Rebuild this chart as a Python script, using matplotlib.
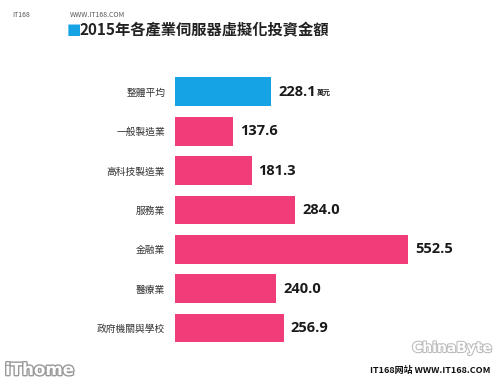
import matplotlib
matplotlib.use("Agg")
import matplotlib.pyplot as plt
import matplotlib.patheffects as pe

plt.rcParams['font.family'] = ['Noto Sans CJK TC', 'DejaVu Sans']

categories = ["整體平均", "一般製造業", "高科技製造業", "服務業", "金融業", "醫療業", "政府機關與學校"]
values = [228.1, 137.6, 181.3, 284.0, 552.5, 240.0, 256.9]
value_labels = ["228.1", "137.6", "181.3", "284.0", "552.5", "240.0", "256.9"]
unit = "萬元"
title = "2015年各產業伺服器虛擬化投資金額"

BLUE = "#15a3e6"
PINK = "#f03c78"
colors = [BLUE] + [PINK] * (len(values) - 1)

fig = plt.figure(figsize=(5.0, 3.84), dpi=100)
fig.patch.set_facecolor("white")
ax = fig.add_axes([0.35, 0.0945, 0.61, 0.7177])

ypos = list(range(len(categories)))
bars = ax.barh(ypos, values, height=0.73, color=colors, edgecolor="none")
ax.set_ylim(len(categories) - 0.5, -0.5)
ax.set_xlim(0, 722)
ax.set_yticks(ypos)
ax.set_yticklabels(categories, fontsize=7, color="#333333")
ax.tick_params(axis="y", length=0, pad=7)
ax.set_xticks([])
for s in ax.spines.values():
    s.set_visible(False)

for i, (v, lab) in enumerate(zip(values, value_labels)):
    t = ax.annotate(lab, xy=(v, i), xytext=(5, 0), textcoords="offset points",
                    ha="left", va="center", fontsize=10.5, fontweight="bold", color="#1a1a1a",
                    family=["Open Sans", "DejaVu Sans"])
    if i == 0:
        ax.annotate(unit, xy=(1, 0.2), xycoords=t, xytext=(0.5, 0),
                    textcoords="offset points", ha="left", va="bottom",
                    fontsize=5, fontweight="bold", color="#1a1a1a")

# title with blue square
fig.text(67 / 500, 1 - 30 / 384, "■", color=BLUE, fontsize=11, ha="left", va="center",
         family=["DejaVu Sans"])
fig.text(80 / 500, 1 - 30 / 384, title, color="#222222", fontsize=11, fontweight="bold",
         ha="left", va="center")

# watermarks
fig.text(12 / 500, 1 - 15 / 384, "IT168", fontsize=5, color="#555555", ha="left", va="center")
fig.text(70 / 500, 1 - 15 / 384, "WWW.IT168.COM", fontsize=5, color="#555555", ha="left", va="center")
fig.text(5 / 500, 1 - 370 / 384, "iThome", fontsize=12, fontweight="bold", color="white",
         ha="left", va="center", family=["DejaVu Sans"],
         path_effects=[pe.withStroke(linewidth=2, foreground="#999999")])
fig.text(492 / 500, 1 - 348 / 384, "ChinaByte", fontsize=10, fontweight="bold", color="white",
         ha="right", va="center", family=["DejaVu Sans"],
         path_effects=[pe.withStroke(linewidth=1.5, foreground="#bbbbbb")])
fig.text(490 / 500, 1 - 370 / 384, "IT168网站 WWW.IT168.COM", fontsize=6.5, fontweight="bold",
         color="#111111", ha="right", va="center")

fig.savefig("out.png", dpi=100, facecolor="white")
